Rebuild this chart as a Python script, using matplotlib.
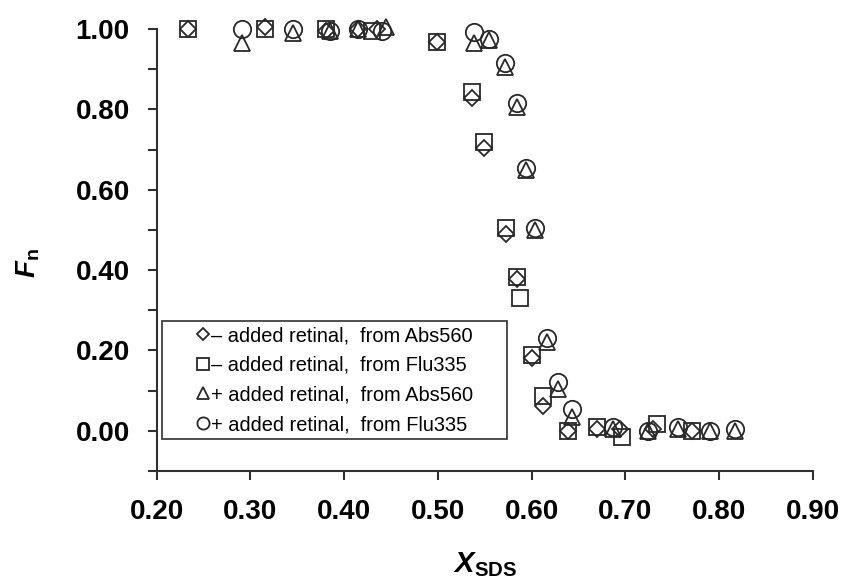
import matplotlib
matplotlib.use("Agg")
import matplotlib.pyplot as plt
import numpy as np

plt.rcParams['font.family'] = ['Liberation Sans', 'DejaVu Sans']
plt.rcParams['mathtext.fontset'] = 'custom'
plt.rcParams['mathtext.rm'] = 'Liberation Sans'
plt.rcParams['mathtext.bf'] = 'Liberation Sans:bold'
plt.rcParams['mathtext.it'] = 'Liberation Sans:italic'
plt.rcParams['mathtext.bfit'] = 'Liberation Sans:bold:italic'

# - added retinal, from Abs560 (diamonds)
x_minus_abs = [0.233, 0.315, 0.381, 0.415, 0.435, 0.499, 0.536, 0.549, 0.573, 0.584,
               0.600, 0.612, 0.639, 0.670, 0.694, 0.730, 0.771]
y_minus_abs = [1.000, 1.005, 0.995, 1.000, 1.000, 0.968, 0.828, 0.705, 0.490, 0.378,
               0.182, 0.062, 0.000, 0.005, 0.005, 0.005, 0.000]

# - added retinal, from Flu335 (squares)
x_minus_flu = [0.233, 0.315, 0.381, 0.430, 0.499, 0.536, 0.549, 0.573, 0.584, 0.588,
               0.600, 0.612, 0.639, 0.670, 0.696, 0.734, 0.771]
y_minus_flu = [1.000, 1.000, 1.000, 0.995, 0.968, 0.843, 0.720, 0.505, 0.382, 0.330,
               0.188, 0.087, 0.000, 0.010, -0.015, 0.017, 0.000]

# + added retinal, from Abs560 (triangles)
x_plus_abs = [0.291, 0.345, 0.385, 0.415, 0.445, 0.539, 0.555, 0.572, 0.584, 0.594,
              0.604, 0.616, 0.628, 0.643, 0.687, 0.724, 0.756, 0.790, 0.817]
y_plus_abs = [0.965, 0.990, 0.995, 1.000, 1.005, 0.965, 0.972, 0.905, 0.805, 0.650,
              0.500, 0.220, 0.105, 0.035, 0.005, 0.000, 0.005, 0.000, 0.000]

# + added retinal, from Flu335 (circles)
x_plus_flu = [0.291, 0.345, 0.385, 0.415, 0.440, 0.539, 0.555, 0.572, 0.584, 0.594,
              0.604, 0.616, 0.628, 0.643, 0.687, 0.724, 0.756, 0.790, 0.817]
y_plus_flu = [1.000, 1.000, 0.995, 1.000, 0.995, 0.993, 0.975, 0.915, 0.815, 0.655,
              0.505, 0.230, 0.120, 0.055, 0.010, 0.000, 0.008, 0.000, 0.005]

labels = ['\u2013 added retinal,  from Abs560',
          '\u2013 added retinal,  from Flu335',
          '+ added retinal,  from Abs560',
          '+ added retinal,  from Flu335']

fig = plt.figure(figsize=(8.43, 5.82), dpi=100)
ax = fig.add_axes([0.186, 0.191, 0.778, 0.759])

edge = '#282828'
common = dict(linestyle='none', markerfacecolor='none', markeredgecolor=edge,
              markeredgewidth=1.3, clip_on=False)
ax.plot(x_minus_abs, y_minus_abs, marker='D', markersize=8.3, label=labels[0], **common)
ax.plot(x_minus_flu, y_minus_flu, marker='s', markersize=12, label=labels[1], **common)
ax.plot(x_plus_abs, y_plus_abs, marker='^', markersize=12, label=labels[2], **common)
ax.plot(x_plus_flu, y_plus_flu, marker='o', markersize=12.5, label=labels[3], **common)

ax.set_xlim(0.2, 0.9)
ax.set_ylim(-0.1, 1.0)
ax.set_xticks(np.arange(0.2, 0.91, 0.1))
ax.set_xticklabels(['%.2f' % v for v in np.arange(0.2, 0.91, 0.1)])
yt = np.arange(-0.1, 1.01, 0.1)
ax.set_yticks(yt)
ax.set_yticklabels(['%.2f' % v if (round(v * 10) % 2 == 0 and v >= -0.01) else '' for v in yt])

for s in ['top', 'right']:
    ax.spines[s].set_visible(False)
for s in ['left', 'bottom']:
    ax.spines[s].set_linewidth(1.5)
    ax.spines[s].set_color('#303030')
ax.tick_params(direction='out', length=6.5, width=1.5, color='#303030', labelsize=20)
ax.tick_params(axis='y', pad=13)
ax.tick_params(axis='x', pad=14)
for t in ax.get_xticklabels() + ax.get_yticklabels():
    t.set_fontweight('bold')

ax.set_ylabel(r'$\mathbfit{F}_{\mathbf{n}}$', fontsize=20)
ax.yaxis.set_label_coords(-0.175, 0.47)
ax.set_xlabel(r'$\mathbfit{X}_{\mathbf{SDS}}$', fontsize=21, labelpad=18)

leg = ax.legend(loc='lower left', bbox_to_anchor=(0.0076, 0.072, 0.526, 0.3),
                mode='expand', fontsize=14.4, markerscale=0.7,
                handlelength=3.6, handletextpad=-1.4, labelspacing=0.53,
                borderpad=0.25, fancybox=False, edgecolor='#303030',
                framealpha=1, borderaxespad=0)
leg.get_frame().set_linewidth(1.2)

fig.savefig('out.png', dpi=100)
